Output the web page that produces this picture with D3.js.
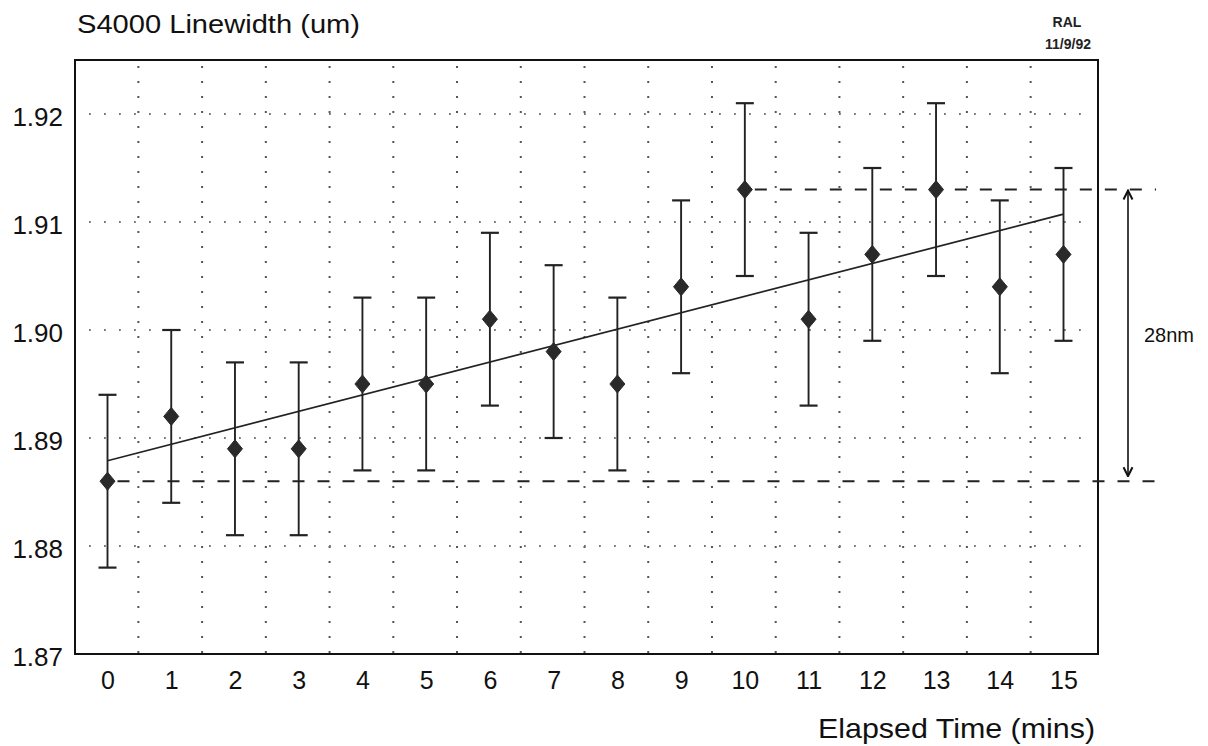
<!DOCTYPE html>
<html>
<head>
<meta charset="utf-8">
<script src="https://cdn.jsdelivr.net/npm/d3@7"></script>
<style>
  body { margin: 0; background: #fff; }
  svg { display: block; font-family: "Liberation Sans", Arial, sans-serif; }
</style>
</head>
<body>
<div id="chart"></div>
<script>
// elapsed time (mins) and measured linewidth (um)
var minutes = [0, 1, 2, 3, 4, 5, 6, 7, 8, 9, 10, 11, 12, 13, 14, 15];
var linewidth = [1.886, 1.892, 1.889, 1.889, 1.895, 1.895, 1.901, 1.898,
                 1.895, 1.904, 1.913, 1.901, 1.907, 1.913, 1.904, 1.907];
var errLow = [1.878, 1.884, 1.881, 1.881, 1.887, 1.887, 1.893, 1.890,
              1.887, 1.896, 1.905, 1.893, 1.899, 1.905, 1.896, 1.899];
var errHigh = [1.894, 1.900, 1.897, 1.897, 1.903, 1.903, 1.909, 1.906,
               1.903, 1.912, 1.921, 1.909, 1.915, 1.921, 1.912, 1.915];
var yTicks = [1.87, 1.88, 1.89, 1.90, 1.91, 1.92];
var xGrid = [0.5, 1.5, 2.5, 3.5, 4.5, 5.5, 6.5, 7.5, 8.5, 9.5, 10.5, 11.5, 12.5, 13.5, 14.5];
var rangeLevels = [1.886, 1.913];   // min / max lines for the 28nm marker
var rangeStart = [0, 10];

var W = 1208, H = 746;
var plot = { left: 75, right: 1098, top: 60, bottom: 654 };

var svg = d3.select("#chart").append("svg")
  .attr("width", W)
  .attr("height", H);

var x = d3.scaleLinear().domain([0, 15]).range([107.5, 1063.5]);
var y = d3.scaleLinear().domain([1.87, 1.925]).range([plot.bottom, plot.top]);

// dotted grid
svg.append("g").selectAll("line").data(xGrid).join("line")
  .attr("x1", function(d) { return x(d) - 1; })
  .attr("x2", function(d) { return x(d) - 1; })
  .attr("y1", plot.top + 6)
  .attr("y2", plot.bottom)
  .attr("stroke", "#555")
  .attr("stroke-width", 2)
  .attr("stroke-dasharray", "2,13");

svg.append("g").selectAll("line").data(yTicks.slice(1)).join("line")
  .attr("x1", plot.left + 14)
  .attr("x2", plot.right - 4)
  .attr("y1", function(d) { return y(d); })
  .attr("y2", function(d) { return y(d); })
  .attr("stroke", "#777")
  .attr("stroke-width", 1.8)
  .attr("stroke-dasharray", "1.8,13.2");

// frame
svg.append("rect")
  .attr("x", plot.left)
  .attr("y", plot.top)
  .attr("width", plot.right - plot.left)
  .attr("height", plot.bottom - plot.top)
  .attr("fill", "none")
  .attr("stroke", "#111")
  .attr("stroke-width", 2);

// axes
var yAxis = svg.append("g")
  .attr("transform", "translate(" + (plot.left - 12) + ",3)")
  .call(d3.axisLeft(y).tickValues(yTicks).tickSize(0).tickPadding(0)
    .tickFormat(d3.format(".2f")));
yAxis.select(".domain").remove();
yAxis.selectAll("text")
  .attr("font-size", 26)
  .attr("font-family", "Liberation Sans, Arial, sans-serif")
  .attr("fill", "#111");

var xAxis = svg.append("g")
  .attr("transform", "translate(0," + (plot.bottom + 17) + ")")
  .call(d3.axisBottom(x).tickValues(minutes).tickSize(0).tickPadding(0)
    .tickFormat(d3.format("d")));
xAxis.select(".domain").remove();
xAxis.selectAll("text")
  .attr("font-size", 25)
  .attr("font-family", "Liberation Sans, Arial, sans-serif")
  .attr("fill", "#111");

// dashed range lines and arrow
svg.append("g").selectAll("line").data(rangeLevels).join("line")
  .attr("x1", function(d, i) { return x(rangeStart[i]) + 10; })
  .attr("x2", 1156)
  .attr("y1", function(d) { return y(d); })
  .attr("y2", function(d) { return y(d); })
  .attr("stroke", "#222")
  .attr("stroke-width", 2)
  .attr("stroke-dasharray", "12,13");

var defs = svg.append("defs");
defs.append("marker")
  .attr("id", "arr")
  .attr("viewBox", "0 0 10 10")
  .attr("refX", 9).attr("refY", 5)
  .attr("markerWidth", 7).attr("markerHeight", 7)
  .attr("orient", "auto-start-reverse")
  .append("path")
  .attr("d", "M1,1 L9,5 L1,9")
  .attr("fill", "none")
  .attr("stroke", "#111")
  .attr("stroke-width", 1.8);

svg.append("line")
  .attr("x1", 1128).attr("x2", 1128)
  .attr("y1", y(rangeLevels[1]) + 1)
  .attr("y2", y(rangeLevels[0]) - 5)
  .attr("stroke", "#111")
  .attr("stroke-width", 1.6)
  .attr("marker-start", "url(#arr)")
  .attr("marker-end", "url(#arr)");

svg.append("text")
  .attr("x", 1169)
  .attr("y", 342)
  .attr("text-anchor", "middle")
  .attr("font-size", 20)
  .attr("fill", "#111")
  .text("28nm");

// least squares fit line
var mx = d3.mean(minutes), my = d3.mean(linewidth);
var sxy = d3.sum(minutes, function(d, i) { return (d - mx) * (linewidth[i] - my); });
var sxx = d3.sum(minutes, function(d) { return (d - mx) * (d - mx); });
var slope = sxy / sxx, icpt = my - slope * mx;
svg.append("line")
  .attr("x1", x(0)).attr("y1", y(icpt))
  .attr("x2", x(15)).attr("y2", y(icpt + slope * 15))
  .attr("stroke", "#222")
  .attr("stroke-width", 1.7);

// error bars
var bars = svg.append("g").selectAll("g").data(minutes).join("g");
bars.append("line")
  .attr("x1", function(d) { return x(d); })
  .attr("x2", function(d) { return x(d); })
  .attr("y1", function(d, i) { return y(errLow[i]); })
  .attr("y2", function(d, i) { return y(errHigh[i]); })
  .attr("stroke", "#222")
  .attr("stroke-width", 1.9);
bars.append("line")
  .attr("x1", function(d) { return x(d) - 9; })
  .attr("x2", function(d) { return x(d) + 9; })
  .attr("y1", function(d, i) { return y(errLow[i]); })
  .attr("y2", function(d, i) { return y(errLow[i]); })
  .attr("stroke", "#222")
  .attr("stroke-width", 2.2);
bars.append("line")
  .attr("x1", function(d) { return x(d) - 9; })
  .attr("x2", function(d) { return x(d) + 9; })
  .attr("y1", function(d, i) { return y(errHigh[i]); })
  .attr("y2", function(d, i) { return y(errHigh[i]); })
  .attr("stroke", "#222")
  .attr("stroke-width", 2.2);

// diamonds
svg.append("g").selectAll("path").data(minutes).join("path")
  .attr("d", function(d, i) {
    var cx = x(d), cy = y(linewidth[i]);
    return "M" + cx + "," + (cy - 9) + "L" + (cx + 7.5) + "," + cy +
      "L" + cx + "," + (cy + 9) + "L" + (cx - 7.5) + "," + cy + "Z";
  })
  .attr("fill", "#2a2a2a")
  .attr("stroke", "#2a2a2a")
  .attr("stroke-width", 1);

// titles
svg.append("text")
  .attr("x", 77).attr("y", 33)
  .attr("font-size", 26.5)
  .attr("textLength", 283)
  .attr("lengthAdjust", "spacingAndGlyphs")
  .attr("fill", "#111")
  .text("S4000 Linewidth (um)");

svg.append("text")
  .attr("x", 818).attr("y", 738)
  .attr("font-size", 28)
  .attr("textLength", 277)
  .attr("lengthAdjust", "spacingAndGlyphs")
  .attr("fill", "#111")
  .text("Elapsed Time (mins)");

svg.append("text")
  .attr("x", 1067).attr("y", 27)
  .attr("text-anchor", "middle")
  .attr("font-size", 14)
  .attr("font-weight", "bold")
  .attr("fill", "#222")
  .text("RAL");
svg.append("text")
  .attr("x", 1068).attr("y", 49)
  .attr("text-anchor", "middle")
  .attr("font-size", 14)
  .attr("font-weight", "bold")
  .attr("fill", "#222")
  .text("11/9/92");
</script>
</body>
</html>
